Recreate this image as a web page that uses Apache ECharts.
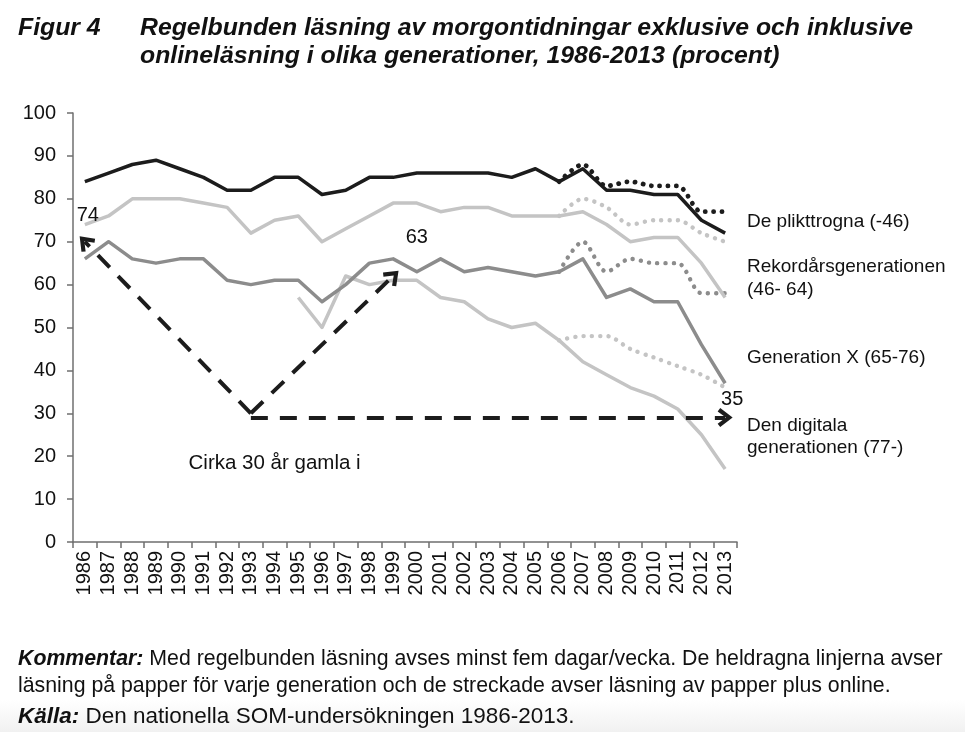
<!DOCTYPE html>
<html>
<head>
<meta charset="utf-8">
<script src="https://cdn.jsdelivr.net/npm/echarts@6/dist/echarts.min.js"></script>
<style>
  html, body { margin: 0; padding: 0; background: #ffffff; }
  #chart { width: 965px; height: 732px; }
</style>
</head>
<body>
<div id="chart"></div>
<script>
// ---------- data ----------
const years = ['1986','1987','1988','1989','1990','1991','1992','1993','1994','1995','1996','1997','1998','1999',
               '2000','2001','2002','2003','2004','2005','2006','2007','2008','2009','2010','2011','2012','2013'];

// Paper reading (solid lines)
const plikttrognaPaper = [84,86,88,89,87,85,82,82,85,85,81,82,85,85,86,86,86,86,85,87,84,87,82,82,81,81,75,72];
const rekordPaper      = [74,76,80,80,80,79,78,72,75,76,70,73,76,79,79,77,78,78,76,76,76,77,74,70,71,71,65,57];
const genXPaper        = [66,70,66,65,66,66,61,60,61,61,56,60,65,66,63,66,63,64,63,62,63,66,57,59,56,56,46,37];
const digitalPaper     = [null,null,null,null,null,null,null,null,null,57,50,62,60,61,61,57,56,52,50,51,47,42,39,36,34,31,25,17];

// Paper plus online (dotted lines), 2006-2013
const plikttrognaOnline = [null,null,null,null,null,null,null,null,null,null,null,null,null,null,null,null,null,null,null,null,84,88,83,84,83,83,77,77];
const rekordOnline      = [null,null,null,null,null,null,null,null,null,null,null,null,null,null,null,null,null,null,null,null,76,80,78,74,75,75,72,70];
const genXOnline        = [null,null,null,null,null,null,null,null,null,null,null,null,null,null,null,null,null,null,null,null,63,70,63,66,65,65,58,58];
const digitalOnline     = [null,null,null,null,null,null,null,null,null,null,null,null,null,null,null,null,null,null,null,null,47,48,48,45,43,41,39,36];

// Annotation arrows (cohort "about 30 years old"): [fromYear, fromValue, toYear, toValue]
const arrowLines = [
  ['1993', 30, '1986', 70],
  ['1993', 30, '1999', 62],
  ['1993', 29, '2013', 29]
];
// Annotation texts: [text, year, value]
const annoTexts = [
  ['74', '1986', 76.2],
  ['63', '2000', 71],
  ['35', '2013', 33.2],
  ['Cirka 30 år gamla i', '1994', 18.4]
];

const yTicks = { min: 0, max: 100, interval: 10 };

const seriesNames = ['De plikttrogna (-46)', 'Rekordårsgenerationen (46-64)', 'Generation X (65-76)', 'Den digitala generationen (77-)'];

// ---------- chart ----------
const FONT = "'Liberation Sans', Arial, Helvetica, sans-serif";
const BLACK = '#1c1c1c', LIGHT = '#c4c4c4', MID = '#8c8c8c';

const chart = echarts.init(document.getElementById('chart'), null, { renderer: 'canvas' });

function solid(name, data, color) {
  return { name, type: 'line', data, symbol: 'none', connectNulls: false,
           lineStyle: { color, width: 3.5, join: 'round' }, itemStyle: { color },
           silent: true, z: 3 };
}
function dotted(name, data, color, w) {
  return { name: name + ' online', type: 'line', data, symbol: 'none', smooth: 0.3,
           lineStyle: { color, width: w, type: [0.1, 8.2], cap: 'round' }, itemStyle: { color },
           silent: true, z: 2 };
}

const chevron = 'path://M0,12 L10,0 L20,12 L16.5,14.5 L10,6.5 L3.5,14.5 Z';

const series = [
  dotted(seriesNames[0], plikttrognaOnline, BLACK, 4.8),
  dotted(seriesNames[1], rekordOnline, LIGHT, 4.4),
  dotted(seriesNames[2], genXOnline, MID, 4.4),
  dotted(seriesNames[3], digitalOnline, LIGHT, 4.4),
  solid(seriesNames[3], digitalPaper, LIGHT),
  solid(seriesNames[1], rekordPaper, LIGHT),
  solid(seriesNames[2], genXPaper, MID),
  solid(seriesNames[0], plikttrognaPaper, BLACK),
  {
    name: 'annotations', type: 'line', data: [], silent: true, z: 5,
    markLine: {
      silent: true, symbol: ['none', chevron], symbolSize: [19, 15],
      label: { show: false },
      lineStyle: { color: BLACK, width: 4, type: [17, 12] },
      emphasis: { disabled: true },
      data: arrowLines.map(a => [{ coord: [a[0], a[1]] }, { coord: [a[2], a[3]] }])
    },
    markPoint: {
      silent: true, symbol: 'circle', symbolSize: 1,
      itemStyle: { color: 'rgba(0,0,0,0)' },
      label: { show: true, position: 'inside', color: '#111', fontSize: 20, fontFamily: FONT,
               formatter: p => p.name },
      data: annoTexts.map(t => ({ name: t[0], coord: [t[1], t[2]],
               label: { offset: t[0] === '35' ? [7, 0] : (t[0] === '74' ? [3, 0] : [0, 0]),
                        fontSize: t[0].length > 3 ? 20.5 : 20 } }))
    }
  }
];

// right side series labels
const rightLabels = [
  ['De plikttrogna (-46)', 223],
  ['Rekordårsgenerationen', 268],
  ['(46- 64)', 291],
  ['Generation X (65-76)', 359],
  ['Den digitala', 427],
  ['generationen (77-)', 449]
];

const graphic = [
  { type: 'rect', left: 0, top: 700, shape: { width: 965, height: 32 }, silent: true, z: -10,
    style: { fill: new echarts.graphic.LinearGradient(0, 0, 0, 1, [{offset: 0, color: '#ffffff'}, {offset: 1, color: '#f1f1f1'}]) } },
  { type: 'text', left: 18, top: 16, style: { text: 'Figur 4', font: "italic bold 24.8px " + FONT, fill: '#111' } },
  { type: 'text', left: 140, top: 16, style: { text: 'Regelbunden läsning av morgontidningar exklusive och inklusive', font: "italic bold 24.8px " + FONT, fill: '#111' } },
  { type: 'text', left: 140, top: 44, style: { text: 'onlineläsning i olika generationer, 1986-2013 (procent)', font: "italic bold 24.8px " + FONT, fill: '#111' } },
  ...rightLabels.map(r => ({ type: 'text', left: 747, top: r[1] - 11, style: { text: r[0], font: "19px " + FONT, fill: '#111' } })),
  { type: 'text', left: 18, top: 649, style: {
      text: '{b|Kommentar:} Med regelbunden läsning avses minst fem dagar/vecka. De heldragna linjerna avser',
      font: "21.3px " + FONT, fill: '#111',
      rich: { b: { font: "italic bold 21.3px " + FONT, fill: '#111' } } } },
  { type: 'text', left: 18, top: 676, style: {
      text: 'läsning på papper för varje generation och de streckade avser läsning av papper plus online.',
      font: "21.3px " + FONT, fill: '#111' } },
  { type: 'text', left: 18, top: 705, style: {
      text: '{b|Källa:} Den nationella SOM-undersökningen 1986-2013.',
      font: "22.5px " + FONT, fill: '#111',
      rich: { b: { font: "italic bold 22.5px " + FONT, fill: '#111' } } } }
];

chart.setOption({
  backgroundColor: '#ffffff',
  animation: false,
  grid: { left: 73, right: 228, top: 113, bottom: 190, containLabel: false },
  xAxis: {
    type: 'category', data: years, boundaryGap: true,
    axisLine: { lineStyle: { color: '#6f6f6f', width: 1.5 } },
    axisTick: { show: true, interval: 0, length: 6, lineStyle: { color: '#6f6f6f', width: 1.5 } },
    axisLabel: { interval: 0, rotate: 90, fontSize: 20, color: '#111', fontFamily: FONT, margin: 9 },
    splitLine: { show: false }
  },
  yAxis: {
    type: 'value', min: yTicks.min, max: yTicks.max, interval: yTicks.interval,
    axisLine: { show: true, lineStyle: { color: '#6f6f6f', width: 1.5 } },
    axisTick: { show: true, length: 6, lineStyle: { color: '#6f6f6f', width: 1.5 } },
    axisLabel: { fontSize: 20, color: '#111', fontFamily: FONT, margin: 17 },
    splitLine: { show: false }
  },
  series,
  graphic
});
</script>
</body>
</html>
